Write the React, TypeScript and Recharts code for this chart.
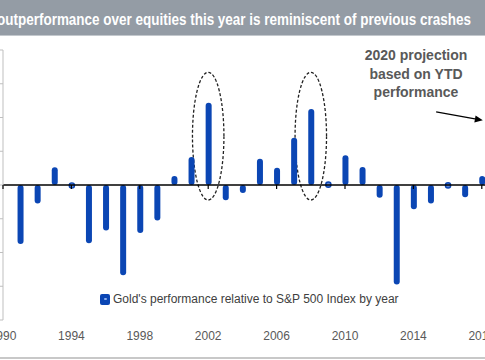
import React from "react";
import {
  BarChart,
  Bar,
  XAxis,
  YAxis,
  ReferenceLine,
  ReferenceArea,
  ReferenceDot,
  Legend,
} from "recharts";

// ---- data (gold return minus S&P 500 return, % points) ----
const years = [
  1991, 1992, 1993, 1994, 1995, 1996, 1997, 1998, 1999, 2000,
  2001, 2002, 2003, 2004, 2005, 2006, 2007, 2008, 2009, 2010,
  2011, 2012, 2013, 2014, 2015, 2016, 2017, 2018, 2019, 2020,
];
const relativePerf = [
  -35, -11, 10.5, -0.6, -34.5, -27, -53.5, -28.5, -21, 5.4,
  16.6, 48.8, -9, -4.8, 15.6, 10.2, 28, 45, 0.4, 17.6,
  10.6, -7.6, -59, -14.4, -11, -0.5, -7.2, 5.4, -11, 25,
];
const xTicks = [1990, 1994, 1998, 2002, 2006, 2010, 2014, 2018];
const yTicks = [-80, -60, -40, -20, 0, 20, 40, 60, 80];
const highlightYears = [2002, 2008];

const titleText =
  "outperformance over equities this year is reminiscent of previous crashes";
const legendText = "Gold's performance relative to S&P 500 Index by year";
const noteLines = ["2020 projection", "based on YTD", "performance"];

const data = years.map((y, i) => ({ year: y, value: relativePerf[i] }));

const BLUE = "#0b46b4";
const FONT = "'Liberation Sans', Arial, sans-serif";

const CapsuleBar = (props: any) => {
  const { x, y, width, height } = props;
  if (x == null || y == null) return null;
  const top = Math.min(y, y + height);
  const h = Math.abs(height);
  const cx = x + width / 2;
  if (h < 4) {
    return (
      <circle cx={cx} cy={top + h / 2} r={2.6} fill="#5f86d6" stroke={BLUE} strokeWidth={1.4} />
    );
  }
  return <rect x={cx - 3} y={top} width={6} height={h} rx={3} ry={3} fill={BLUE} />;
};

const Ellipse = (props: any) => {
  const { x, y, width, height } = props;
  return (
    <ellipse
      cx={x + width / 2}
      cy={y + height / 2}
      rx={width / 2}
      ry={height / 2}
      fill="none"
      stroke="#222"
      strokeWidth={1.3}
      strokeDasharray="3 2"
    />
  );
};

const Arrow = (props: any) => {
  const { x1, y1, x2, y2 } = props;
  if (x1 == null) return null;
  const ang = Math.atan2(y2 - y1, x2 - x1);
  const L = 8, W = 3.5;
  const bx = x2 - L * Math.cos(ang);
  const by = y2 - L * Math.sin(ang);
  const p1 = `${x2},${y2}`;
  const p2 = `${bx + W * Math.sin(ang)},${by - W * Math.cos(ang)}`;
  const p3 = `${bx - W * Math.sin(ang)},${by + W * Math.cos(ang)}`;
  return (
    <g>
      <line x1={x1} y1={y1} x2={bx} y2={by} stroke="#000" strokeWidth={1.2} />
      <polygon points={`${p1} ${p2} ${p3}`} fill="#000" />
    </g>
  );
};

const TickMark = (props: any) => {
  const { cx, cy } = props;
  if (cx == null) return null;
  return <line x1={cx} y1={cy} x2={cx} y2={cy + 4} stroke="#000" strokeWidth={1.2} />;
};

const LegendContent = () => (
  <div style={{ display: "flex", alignItems: "center", whiteSpace: "nowrap", fontFamily: FONT }}>
    <span
      style={{
        display: "inline-block",
        width: 10,
        height: 11,
        borderRadius: 2,
        background: BLUE,
        marginRight: 3,
        position: "relative",
      }}
    >
      <span
        style={{
          position: "absolute",
          left: 4,
          top: 4,
          width: 2.6,
          height: 2.6,
          borderRadius: 2,
          background: "#8fb0ee",
        }}
      />
    </span>
    <span style={{ fontSize: 12, color: "#404040" }}>{legendText}</span>
  </div>
);

export default function App() {
  return (
    <div
      style={{
        position: "fixed",
        left: 0,
        top: 0,
        width: 485,
        height: 360,
        overflow: "hidden",
        background: "#fff",
        fontFamily: FONT,
      }}
    >
      <div style={{ position: "absolute", left: -57, top: 0 }}>
        <BarChart
          width={573}
          height={350}
          data={data}
          margin={{ top: 50, right: 0, bottom: 0, left: 0 }}
          style={{ fontFamily: FONT }}
        >
          <XAxis
            dataKey="year"
            type="number"
            domain={[1990, 2020]}
            ticks={xTicks}
            interval={0}
            axisLine={false}
            tickLine={false}
            tickMargin={5}
            height={30}
            tick={{ fill: "#595959", fontSize: 12 }}
          />
          <YAxis
            width={60}
            domain={[-80, 80]}
            ticks={yTicks}
            interval={0}
            axisLine={{ stroke: "#bfbfbf" }}
            tickLine={{ stroke: "#bfbfbf" }}
            tickSize={4}
            tick={{ fill: "#595959", fontSize: 12 }}
            tickFormatter={(v: number) => `${v}%`}
          />
          <Legend
            layout="vertical"
            align="center"
            verticalAlign="middle"
            content={<LegendContent />}
            wrapperStyle={{ position: "absolute", left: 157, top: 292, width: 320 }}
          />
          <ReferenceLine y={0} stroke="#000" strokeWidth={1.5} />
          {xTicks.map((t) => (
            <ReferenceDot key={t} x={t} y={0} shape={<TickMark />} />
          ))}
          <Bar dataKey="value" barSize={6} shape={<CapsuleBar />} isAnimationActive={false} />
          {highlightYears.map((yr) => (
            <ReferenceArea
              key={yr}
              x1={yr - 0.92}
              x2={yr + 0.92}
              y1={-8.9}
              y2={66.8}
              shape={<Ellipse />}
            />
          ))}
          <ReferenceLine
            segment={[
              { x: 2015.33, y: 43.3 },
              { x: 2018.06, y: 38.3 },
            ]}
            shape={<Arrow />}
          />
        </BarChart>
      </div>

      {/* title bar */}
      <div
        style={{
          position: "absolute",
          left: 0,
          top: 0,
          width: 485,
          height: 35,
          background: "#949ca5",
          borderBottom: "1px solid #c3c8cd",
        }}
      >
        <svg width={485} height={35} style={{ display: "block" }}>
          <text
            x={-3}
            y={24.5}
            fontSize={16}
            fontWeight="bold"
            fill="#fff"
            fontFamily={FONT}
            textLength={474}
            lengthAdjust="spacingAndGlyphs"
          >
            {titleText}
          </text>
        </svg>
      </div>

      {/* annotation */}
      <div
        style={{
          position: "absolute",
          left: 346,
          top: 46,
          width: 140,
          textAlign: "center",
          fontWeight: "bold",
          fontSize: 14,
          lineHeight: "18.5px",
          color: "#595959",
        }}
      >
        {noteLines.map((l) => (
          <div key={l}>{l}</div>
        ))}
      </div>

      {/* bottom frame line */}
      <div
        style={{
          position: "absolute",
          left: 0,
          top: 357,
          width: 485,
          height: 2,
          background: "#c8c8c8",
        }}
      />
    </div>
  );
}
